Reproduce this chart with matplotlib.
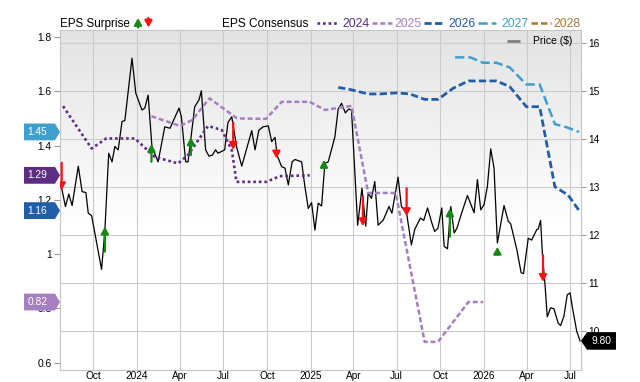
import numpy as np
import pandas as pd
import matplotlib
matplotlib.use('Agg')
import matplotlib.pyplot as plt
import matplotlib.dates as mdates
import matplotlib.transforms as mtransforms
from matplotlib.patches import Polygon, FancyArrowPatch
from matplotlib.lines import Line2D
from matplotlib.colors import LinearSegmentedColormap

plt.rcParams['font.family'] = ['Liberation Sans', 'DejaVu Sans']

# ---------------- data ----------------
price_dates = ["2023-07-27","2023-08-04","2023-08-11","2023-08-18","2023-08-31","2023-09-08","2023-09-16","2023-09-21","2023-09-28","2023-10-19",
"2023-10-26","2023-11-03","2023-11-10","2023-11-16","2023-11-23","2023-12-01","2023-12-07","2023-12-22","2023-12-30","2024-01-12",
"2024-01-18","2024-01-25","2024-02-02","2024-02-15","2024-02-29","2024-03-11","2024-03-30","2024-04-04","2024-04-13","2024-04-18",
"2024-05-02","2024-05-11","2024-05-16","2024-05-25","2024-06-01","2024-06-08","2024-06-15","2024-06-20","2024-07-04","2024-07-11",
"2024-07-19","2024-07-29","2024-08-09","2024-08-30","2024-09-06","2024-09-14","2024-09-23","2024-10-04","2024-10-11","2024-10-18",
"2024-10-23","2024-11-01","2024-11-08","2024-11-15","2024-11-23","2024-11-29","2024-12-13","2024-12-20","2024-12-27","2025-01-03",
"2025-01-10","2025-01-17","2025-01-24","2025-01-31","2025-02-07","2025-02-21","2025-02-28","2025-03-07","2025-03-15","2025-03-22",
"2025-03-28","2025-04-10","2025-04-19","2025-04-27","2025-05-02","2025-05-09","2025-05-16","2025-05-23","2025-06-03","2025-06-15",
"2025-06-21","2025-07-04","2025-07-11","2025-07-22","2025-08-01","2025-08-08","2025-08-20","2025-08-27","2025-09-04","2025-09-13",
"2025-09-19","2025-09-26","2025-10-04","2025-10-09","2025-10-16","2025-10-23","2025-10-30","2025-11-05","2025-11-15","2025-11-27",
"2025-12-11","2025-12-18","2025-12-25","2026-01-01","2026-01-08","2026-01-15","2026-01-22","2026-01-29","2026-02-03","2026-02-12",
"2026-02-21","2026-02-26","2026-03-11","2026-03-20","2026-03-25","2026-04-04","2026-04-11","2026-04-22","2026-04-25","2026-04-30",
"2026-05-04","2026-05-09","2026-05-14","2026-05-21","2026-05-28","2026-06-06","2026-06-11","2026-06-18","2026-06-25","2026-07-01",
"2026-07-06","2026-07-15","2026-07-22"]
price_values = [12.98,12.60,12.86,12.62,13.44,12.91,12.89,12.46,12.41,11.29,
12.11,13.71,13.53,13.85,13.78,14.37,14.39,15.69,14.96,14.61,
14.65,14.92,13.85,13.53,14.26,14.23,14.65,14.47,13.53,13.53,
14.68,14.82,15.01,13.78,13.65,13.67,13.78,13.71,13.78,14.35,
14.47,13.85,13.44,14.18,13.78,14.19,14.26,14.28,13.95,14.04,
13.65,13.43,13.40,13.05,13.53,13.58,13.53,13.01,12.56,12.68,
12.11,12.67,12.61,13.50,13.53,14.05,14.63,14.75,14.55,14.63,
14.61,12.21,12.98,12.19,12.88,12.77,13.12,12.21,12.32,12.60,
12.46,13.21,12.60,12.46,11.80,12.12,12.36,12.31,12.57,12.26,
12.08,12.15,12.57,11.77,11.72,12.60,12.05,12.15,12.47,12.83,
12.47,13.16,12.53,12.64,13.02,13.80,13.40,11.84,12.12,12.62,
12.29,12.24,11.70,11.22,11.20,11.94,11.90,12.12,12.13,12.31,
11.56,11.01,10.30,10.49,10.47,10.17,10.12,10.31,10.76,10.80,
10.49,10.00,9.80]

c2024_dates = ["2023-07-30","2023-09-28","2023-10-29","2023-12-28","2024-02-08","2024-03-28","2024-04-18",
               "2024-05-30","2024-06-28","2024-07-19","2024-07-29","2024-09-30","2024-10-28","2024-12-30"]
c2024_values = [1.545,1.389,1.426,1.426,1.358,1.334,1.365,1.472,1.457,1.383,1.266,1.266,1.287,1.29]

c2025_dates = ["2024-02-01","2024-04-01","2024-04-27","2024-06-02","2024-07-30","2024-09-29","2024-11-01","2024-12-30",
               "2025-01-31","2025-03-28","2025-05-02","2025-06-29","2025-08-29","2025-09-26","2025-11-29","2025-12-30"]
c2025_values = [1.508,1.472,1.494,1.574,1.50,1.498,1.561,1.561,1.531,1.546,1.225,1.225,0.676,0.676,0.823,0.823]

c2026_dates = ["2025-02-28","2025-03-24","2025-05-02","2025-05-27","2025-07-01","2025-07-29","2025-08-29","2025-09-26",
               "2025-10-28","2025-11-29","2026-01-27","2026-02-24","2026-03-31","2026-04-28","2026-05-30","2026-06-27","2026-07-20"]
c2026_values = [1.614,1.607,1.59,1.59,1.594,1.59,1.57,1.57,1.611,1.638,1.638,1.617,1.543,1.543,1.248,1.217,1.16]

c2027_dates = ["2025-11-01","2025-12-03","2025-12-30","2026-01-27","2026-02-24","2026-03-31","2026-04-28",
               "2026-05-30","2026-06-24","2026-07-20"]
c2027_values = [1.725,1.725,1.705,1.705,1.688,1.625,1.625,1.479,1.467,1.45]

beat_dates = ["2023-10-26","2024-02-01","2024-04-24","2025-01-29","2025-10-21","2026-01-29"]
beat_from = [11.66,13.53,13.67,13.44,11.97,11.63]
beat_to = [12.18,13.90,14.04,13.57,12.56,11.76]
miss_dates = ["2023-07-27","2024-07-22","2024-10-21","2025-04-21","2025-07-22","2026-05-05"]
miss_from = [13.51,14.35,13.78,12.80,12.98,11.59]
miss_to = [12.94,13.78,13.60,12.19,12.40,11.03]

years = ["2024", "2025", "2026", "2027", "2028"]
year_colors = ["#5c2d82", "#a67fc0", "#225ea8", "#3f9fcc", "#a87a2e"]
price_ticks = [10, 11, 12, 13, 14, 15, 16]
eps_ticks = [0.6, 0.8, 1.0, 1.2, 1.4, 1.6, 1.8]

# ---------------- figure ----------------
W, H = 640, 382
fig = plt.figure(figsize=(W / 100, H / 100), dpi=100)
L, R, T, B = 60, 581, 30, 370
rect = [L / W, 1 - B / H, (R - L) / W, (B - T) / H]

bg = fig.add_axes(rect, zorder=0)
grad = np.linspace(0, 1, 256).reshape(-1, 1)
cmap = LinearSegmentedColormap.from_list('bg', [(0, '#ffffff'), (0.42, '#ffffff'), (1, '#e3e3e3')])
bg.imshow(grad, extent=[0, 1, 0, 1], origin='lower', aspect='auto', cmap=cmap)
bg.set_xlim(0, 1); bg.set_ylim(0, 1)
bg.axis('off')

ax = fig.add_axes(rect, zorder=1)
ax.set_facecolor('none')
ax2 = ax.twinx()
ax2.set_facecolor('none')

ax.yaxis.tick_right()
ax2.yaxis.tick_left()

pd_price = pd.to_datetime(price_dates)
ax.plot(pd_price, price_values, color='black', lw=0.9, zorder=3)

styles = [(0, (1, 1.1)), (0, (2.0, 1.1)), (0, (2.6, 1.2)), (0, (3.7, 1.6))]
widths = [1.9, 1.8, 2.0, 1.8]
series = [(c2024_dates, c2024_values), (c2025_dates, c2025_values),
          (c2026_dates, c2026_values), (c2027_dates, c2027_values)]
for (d, v), ls, lw, col in zip(series, styles, widths, year_colors):
    ax2.plot(pd.to_datetime(d), v, color=col, lw=lw, linestyle=ls, dash_capstyle='butt', zorder=2)

# surprise arrows (price scale)
astyle = '-|>,head_length=0.4,head_width=0.22'
for d, a, b in zip(beat_dates, beat_from, beat_to):
    x = mdates.date2num(pd.Timestamp(d))
    ax2.add_patch(FancyArrowPatch((x, a), (x, b), transform=ax.transData, arrowstyle=astyle,
                                  mutation_scale=10, lw=1.6, color='#128a12', shrinkA=0, shrinkB=0, zorder=5))
for d, a, b in zip(miss_dates, miss_from, miss_to):
    x = mdates.date2num(pd.Timestamp(d))
    ax2.add_patch(FancyArrowPatch((x, a), (x, b), transform=ax.transData, arrowstyle=astyle,
                                  mutation_scale=10, lw=1.6, color='#ff1010', shrinkA=0, shrinkB=0, zorder=5))

# limits
ax.set_xlim(pd.Timestamp('2023-07-23 12:00'), pd.Timestamp('2026-07-24'))
ax.set_ylim(9.194, 16.277)
ax2.set_ylim(0.5724, 1.8258)

ax.xaxis.set_major_locator(mdates.MonthLocator(bymonth=[1, 4, 7, 10]))
def xfmt(x, pos):
    d = mdates.num2date(x)
    return str(d.year) if d.month == 1 else d.strftime('%b')
ax.xaxis.set_major_formatter(plt.FuncFormatter(xfmt))
ax.set_yticks(price_ticks)
ax.set_yticklabels([f"{t:d}" for t in price_ticks])
ax2.set_yticks(eps_ticks)
ax2.set_yticklabels([f"{t:g}" for t in eps_ticks])

ax.grid(True, color='#cbcbcb', lw=0.8, zorder=0)
ax.set_axisbelow(True)
for s in ax.spines.values():
    s.set_color('#c6c6c6'); s.set_linewidth(0.8)
for s in ax2.spines.values():
    s.set_visible(False)

ax.tick_params(axis='x', length=0, pad=0.8, labelsize=7.3, colors='black')
ax.tick_params(axis='y', length=3.8, width=0.8, pad=1.5, labelsize=7.4, color='#999999', labelcolor='black')
ax2.tick_params(axis='y', length=4.0, width=0.8, pad=2.0, labelsize=7.4, color='#999999', labelcolor='black')

# left value tags (last consensus values)
tag_series = [(c2027_values[-1], year_colors[3]), (c2024_values[-1], year_colors[0]),
              (c2026_values[-1], year_colors[2]), (c2025_values[-1], year_colors[1])]
ytr = ax2.get_yaxis_transform()
for val, col in tag_series:
    tr = fig.dpi_scale_trans + mtransforms.ScaledTranslation(0, val, ytr)
    pts = np.array([(-36, -8.4), (-5, -8.4), (0, 0), (-5, 8.4), (-36, 8.4)]) / 100.0
    ax2.add_patch(Polygon(pts, closed=True, transform=tr, facecolor=col, edgecolor='none',
                          clip_on=False, zorder=10))
    ttr = ytr + mtransforms.ScaledTranslation(-0.225, 0, fig.dpi_scale_trans)
    ax2.text(0, val, f"{val:.2f}", transform=ttr, color='white', fontsize=7.4,
             ha='center', va='center', zorder=11, clip_on=False)

# right price tag
last_price = price_values[-1]
ptr = ax.get_yaxis_transform()
tr = fig.dpi_scale_trans + mtransforms.ScaledTranslation(1, last_price, ptr)
pts = np.array([(0, 0), (6, -8.8), (35, -8.8), (35, 8.8), (6, 8.8)]) / 100.0
ax2.add_patch(Polygon(pts, closed=True, transform=tr, facecolor='black', edgecolor='none',
                      clip_on=False, zorder=10))
ttr = ptr + mtransforms.ScaledTranslation(0.20, 0, fig.dpi_scale_trans)
ax2.text(1, last_price, f"{last_price:.2f}", transform=ttr, color='white', fontsize=7.4,
         ha='center', va='center', zorder=11, clip_on=False)

# ---------------- legend row ----------------
def fx(px):
    return px / W
def fy(py):
    return 1 - py / H

fig.text(fx(60), fy(27.3), 'EPS Surprise', fontsize=8.4, ha='left', va='baseline')
fig.add_artist(FancyArrowPatch((fx(138), fy(27.5)), (fx(138), fy(18)), transform=fig.transFigure,
                               arrowstyle=astyle, mutation_scale=10, lw=1.6, color='#128a12',
                               shrinkA=0, shrinkB=0))
fig.add_artist(FancyArrowPatch((fx(148.5), fy(18)), (fx(148.5), fy(27.5)), transform=fig.transFigure,
                               arrowstyle=astyle, mutation_scale=10, lw=1.6, color='#ff1010',
                               shrinkA=0, shrinkB=0))
fig.text(fx(222), fy(27.3), 'EPS Consensus', fontsize=8.6, ha='left', va='baseline')

leg_line_x = [(317, 337), (372, 392), (424, 445), (478, 496), (531, 551)]
leg_text_x = [342, 394, 448, 501, 553]
leg_styles = styles + [(0, (2.6, 1.2))]
leg_widths = widths + [1.8]
for (x0, x1), tx, yr, col, ls, lw in zip(leg_line_x, leg_text_x, years, year_colors, leg_styles, leg_widths):
    fig.add_artist(Line2D([fx(x0), fx(x1)], [fy(22.5), fy(22.5)], transform=fig.transFigure,
                          color=col, lw=lw, linestyle=ls, dash_capstyle='butt'))
    fig.text(fx(tx), fy(27.0), yr, fontsize=8.8, ha='left', va='baseline', color=col)

fig.add_artist(Line2D([fx(507), fx(520)], [fy(41), fy(41)], transform=fig.transFigure,
                      color='#7f7f7f', lw=2.0, solid_capstyle='butt'))
fig.text(fx(533), fy(44.5), 'Price ($)', fontsize=7.5, ha='left', va='baseline')

fig.savefig('out.png', dpi=100)
